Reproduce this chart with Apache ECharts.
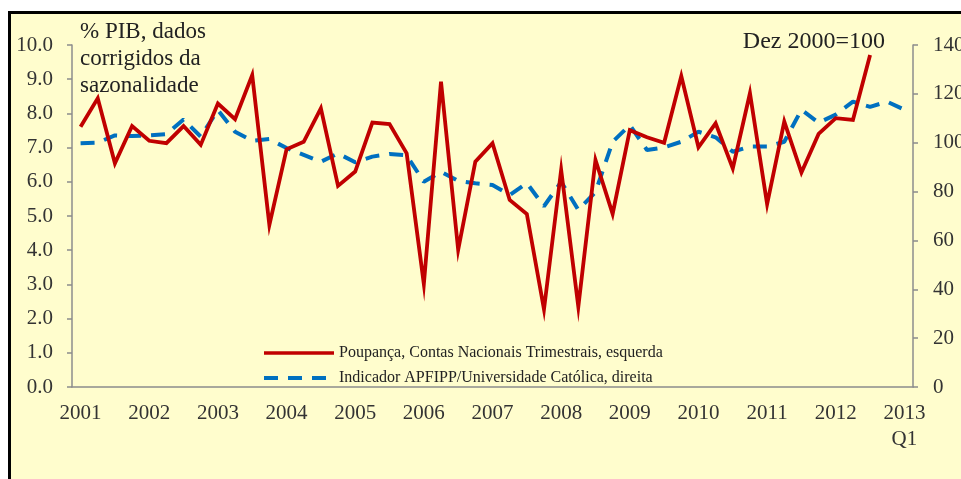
<!DOCTYPE html>
<html>
<head>
<meta charset="utf-8">
<script src="https://cdn.jsdelivr.net/npm/echarts@6/dist/echarts.min.js"></script>
<style>
  html, body { margin: 0; padding: 0; background: #ffffff; overflow: hidden; }
  #box { position: absolute; left: 8px; top: 11px; width: 1000px; height: 520px;
         border: 3px solid #000; background: #FFFDCD; }
  #main { position: absolute; left: 0; top: 0; width: 961px; height: 479px; }
</style>
</head>
<body>
<div id="box"></div>
<div id="main"></div>
<script>
// trimestres 2001Q1 .. 2013Q1
var categories = [];
for (var y = 2001; y <= 2013; y++) {
    for (var q = 1; q <= 4; q++) {
        if (y === 2013 && q > 1) break;
        categories.push(y + 'Q' + q);
    }
}

// Poupança, % PIB (eixo esquerdo)
var poupanca = [7.61, 8.44, 6.54, 7.63, 7.20, 7.13, 7.63, 7.08, 8.29, 7.83, 9.12, 4.74,
    6.95, 7.17, 8.15, 5.88, 6.30, 7.73, 7.69, 6.83, 3.01, 8.93, 4.01, 6.59,
    7.13, 5.47, 5.06, 2.27, 6.35, 2.35, 6.64, 5.06, 7.51, 7.30, 7.14, 9.09,
    7.01, 7.71, 6.39, 8.59, 5.35, 7.76, 6.27, 7.40, 7.86, 7.81, 9.71];

// Indicador APFIPP / Universidade Católica, Dez 2000=100 (eixo direito)
var indicador = [99.8, 100.0, 103.0, 102.7, 103.0, 103.5, 109.5, 102.5, 113.4, 104.5, 100.8, 101.5,
    97.8, 95.0, 92.2, 95.6, 92.0, 94.3, 95.4, 94.8, 84.0, 88.1, 84.4, 83.4,
    82.7, 78.6, 83.5, 74.0, 84.0, 72.5, 79.8, 100.4, 107.2, 97.0, 98.1, 100.4,
    104.5, 102.2, 96.3, 98.4, 98.4, 100.4, 113.5, 108.2, 111.5, 116.8, 114.7, 116.8,
    113.5];

var leftTicks = { min: 0, max: 10, interval: 1 };
var rightTicks = { min: 0, max: 140, interval: 20 };

var FONT = '"Liberation Serif", "DejaVu Serif", serif';
var axisGray = '#8c8c8c';

var chart = echarts.init(document.getElementById('main'));

var option = {
    backgroundColor: 'transparent',
    animation: false,
    textStyle: { fontFamily: FONT },
    grid: { left: 72, right: 48, top: 45, bottom: 92, outerBoundsMode: 'none' },
    legend: {
        orient: 'vertical',
        left: 262,
        top: 345,
        padding: 0,
        itemWidth: 70,
        itemHeight: 14,
        itemGap: 9,
        textStyle: { fontFamily: FONT, fontSize: 16, color: '#222' },
        data: [
            { name: 'Poupança, Contas Nacionais Trimestrais, esquerda',
              itemStyle: { opacity: 0 },
              lineStyle: { width: 3.5, color: '#C00000', opacity: 1 } },
            { name: 'Indicador APFIPP/Universidade Católica, direita',
              itemStyle: { opacity: 0 },
              lineStyle: { width: 4, color: '#0070C0', type: [14, 10], opacity: 1 } }
        ]
    },
    graphic: [
        {
            type: 'text', left: 80, top: 18,
            style: {
                text: '% PIB, dados\ncorrigidos da\nsazonalidade',
                font: '23px ' + FONT, fill: '#222', lineHeight: 27
            }
        },
        {
            type: 'text', right: 76, top: 30,
            style: { text: 'Dez 2000=100', font: '24px ' + FONT, fill: '#222' }
        }
    ],
    xAxis: {
        type: 'category',
        data: categories,
        boundaryGap: true,
        axisLine: { lineStyle: { color: axisGray, width: 1.5 } },
        axisTick: { interval: 3, length: 5, lineStyle: { color: axisGray, width: 1.5 } },
        axisLabel: {
            interval: 3,
            margin: 13,
            fontSize: 21,
            lineHeight: 26,
            color: '#333',
            formatter: function (v) {
                var yr = v.slice(0, 4);
                return v === '2013Q1' ? yr + '\nQ1' : yr;
            }
        }
    },
    yAxis: [
        {
            type: 'value',
            position: 'left',
            min: leftTicks.min, max: leftTicks.max, interval: leftTicks.interval,
            axisLine: { show: true, lineStyle: { color: axisGray, width: 1.5 } },
            axisTick: { show: true, length: 5, lineStyle: { color: axisGray, width: 1.5 } },
            splitLine: { show: false },
            axisLabel: {
                margin: 19, fontSize: 21, color: '#333',
                formatter: function (v) { return v.toFixed(1); }
            }
        },
        {
            type: 'value',
            position: 'right',
            min: rightTicks.min, max: rightTicks.max, interval: rightTicks.interval,
            axisLine: { show: true, lineStyle: { color: axisGray, width: 1.5 } },
            axisTick: { show: true, length: 5, lineStyle: { color: axisGray, width: 1.5 } },
            splitLine: { show: false },
            axisLabel: { margin: 20, fontSize: 21, color: '#333' }
        }
    ],
    series: [
        {
            name: 'Poupança, Contas Nacionais Trimestrais, esquerda',
            type: 'line',
            yAxisIndex: 0,
            data: poupanca,
            symbol: 'none',
            z: 3,
            lineStyle: { color: '#C00000', width: 3.8, join: 'miter' },
            itemStyle: { color: '#C00000' }
        },
        {
            name: 'Indicador APFIPP/Universidade Católica, direita',
            type: 'line',
            yAxisIndex: 1,
            data: indicador,
            symbol: 'none',
            z: 2,
            lineStyle: { color: '#0070C0', width: 4, type: [14, 10] },
            itemStyle: { color: '#0070C0' }
        }
    ]
};

chart.setOption(option);
</script>
</body>
</html>
